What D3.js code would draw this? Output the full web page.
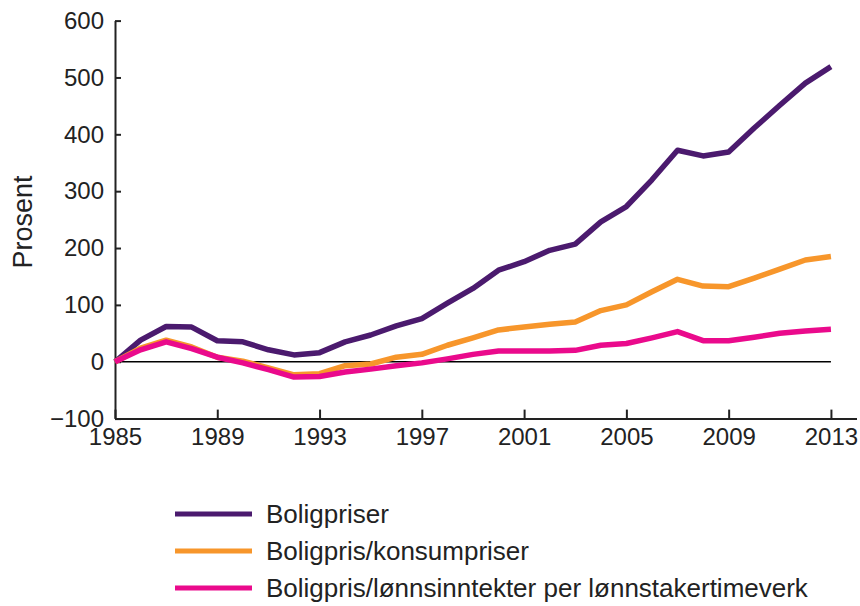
<!DOCTYPE html>
<html lang="no">
<head>
    <meta charset="UTF-8">
    <title>Boligpriser</title>
    <script src="https://d3js.org/d3.v7.min.js"></script>
    <style>
        body { margin: 0; background: #fff; }
        text { font-family: "Liberation Sans", Arial, sans-serif; fill: #222; }
    </style>
</head>
<body>
<script>
// år (årlige observasjoner lest av figuren)
const years = d3.range(1985, 2014);

const boligpriser = [0, 38, 62, 61, 37, 35, 21, 12, 16, 35, 47, 63, 76, 103, 129, 161, 176, 196, 207,
    246, 273, 320, 372, 362, 369, 411, 451, 490, 519];
const boligprisKonsum = [0, 24, 38, 26, 8, 1, -11, -23, -21, -7, -4, 8, 13, 29, 42, 56, 61, 66, 70,
    90, 100, 123, 145, 133, 132, 147, 163, 179, 185];
const boligprisLonn = [0, 21, 35, 23, 8, -2, -14, -27, -26, -18, -13, -7, -2, 5, 13, 19, 19, 19, 20,
    29, 32, 42, 53, 37, 37, 43, 50, 54, 57];

const seriesNames = ["Boligpriser", "Boligpris/konsumpriser", "Boligpris/lønnsinntekter per lønnstakertimeverk"];
const seriesColors = ["#4b1a6e", "#f7962b", "#ea0a8c"];
const xTicks = [1985, 1989, 1993, 1997, 2001, 2005, 2009, 2013];
const yTicks = [-100, 0, 100, 200, 300, 400, 500, 600];

const series = [boligpriser, boligprisKonsum, boligprisLonn];

const width = 860, height = 606;

const svg = d3.select("body").append("svg")
    .attr("width", width)
    .attr("height", height);

const x = d3.scaleLinear().domain([1985, 2014]).range([115, 856.5]);
const y = d3.scaleLinear().domain([-100, 600]).range([418.6, 20.6]);

// y-akse
const yAxis = svg.append("g")
    .attr("transform", "translate(115,0)")
    .call(d3.axisLeft(y).tickValues(yTicks).tickSizeInner(-6).tickSizeOuter(0).tickPadding(11));
yAxis.selectAll("text").style("font-size", "24px");
yAxis.select(".domain").attr("stroke", "#222").attr("stroke-width", 2);
yAxis.selectAll(".tick line").attr("stroke", "#222").attr("stroke-width", 2);

// x-akse
const xAxis = svg.append("g")
    .attr("transform", "translate(0,418.6)")
    .call(d3.axisBottom(x).tickValues(xTicks).tickFormat(d3.format("d"))
        .tickSizeInner(-9).tickSizeOuter(0).tickPadding(9));
xAxis.selectAll("text").style("font-size", "24px");
xAxis.select(".domain").attr("stroke", "#222").attr("stroke-width", 2);
xAxis.selectAll(".tick line").attr("stroke", "#222").attr("stroke-width", 2);

// null-linje
svg.append("line")
    .attr("x1", x(1985)).attr("x2", x(2013))
    .attr("y1", y(0)).attr("y2", y(0))
    .attr("stroke", "#000")
    .attr("stroke-width", 1.5);

// aksetittel
svg.append("text")
    .attr("transform", "translate(32,222) rotate(-90)")
    .attr("text-anchor", "middle")
    .style("font-size", "27px")
    .text("Prosent");

// linjer
const line = d3.line()
    .x((d, i) => x(years[i]))
    .y(d => y(d));

svg.selectAll(".serie")
    .data(series)
    .enter().append("path")
    .attr("class", "serie")
    .attr("d", line)
    .attr("fill", "none")
    .attr("stroke", (d, i) => seriesColors[i])
    .attr("stroke-width", 5.5)
    .attr("stroke-linejoin", "round");

// tegnforklaring
const legendY = [514, 551, 588];
const legend = svg.selectAll(".legend")
    .data(seriesNames)
    .enter().append("g")
    .attr("class", "legend")
    .attr("transform", (d, i) => `translate(0,${legendY[i]})`);

legend.append("line")
    .attr("x1", 175).attr("x2", 252)
    .attr("stroke", (d, i) => seriesColors[i])
    .attr("stroke-width", 5);

legend.append("text")
    .attr("x", 266)
    .attr("dy", "0.36em")
    .style("font-size", "26px")
    .text(d => d);
</script>
</body>
</html>
